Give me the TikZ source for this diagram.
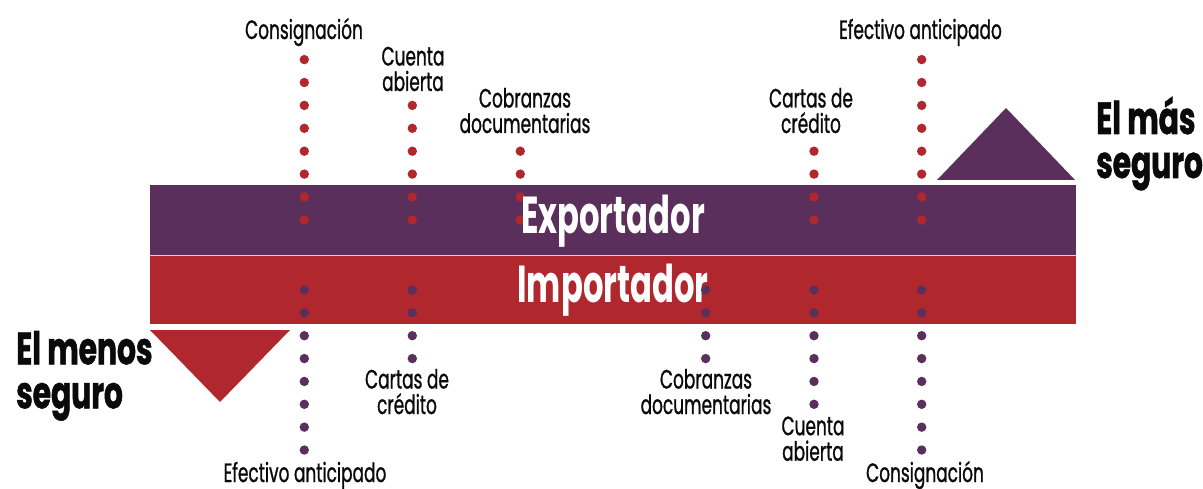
\documentclass[tikz,border=0pt]{standalone}
\usepackage{fontspec}
\newfontfamily\labfont[FakeStretch=0.64, FakeBold=0.9]{Poppins}
\newfontfamily\boldfont[FakeStretch=0.62]{Poppins}
\newfontfamily\heavyfont[FakeStretch=0.66, FakeBold=1.2]{Poppins}
\definecolor{expurple}{RGB}{91,47,92}
\definecolor{impred}{RGB}{177,39,46}
\definecolor{tlabel}{RGB}{10,10,10}
\tikzset{
  lbl/.style={font=\labfont\fontsize{26.5}{25.5}\selectfont, text=tlabel, inner sep=0pt, align=center, anchor=base},
  biglbl/.style={font=\heavyfont\bfseries\fontsize{45}{44}\selectfont, text=tlabel, inner sep=0pt, align=left, anchor=base west},
  bandtext/.style={font=\boldfont\bfseries\fontsize{52}{52}\selectfont, text=white, inner sep=0pt, anchor=base},
}
\begin{document}
\begin{tikzpicture}[x=1pt,y=-1pt]
\useasboundingbox (0,0) rectangle (1203,489);
\fill[white] (0,0) rectangle (1203,489);
% bands
\fill[expurple] (150,185) rectangle (1076,255);
\fill[impred] (150,255) rectangle (1076,324);
\draw[white!75!impred, line width=0.6pt] (150,255) -- (1076,255);
% triangles
\fill[expurple] (937,180) -- (1075,180) -- (1006,108) -- cycle;
\fill[impred] (150,330) -- (290,330) -- (220,402) -- cycle;
% top red dots
\foreach \x/\n in {304.3/8, 412.3/6, 520.3/4, 814/4, 921.7/8}{
  \foreach \i in {1,...,\n}{
    \fill[impred] (\x, {219.9-(\i-1)*22.9}) circle (4.7);
  }
}
% band texts
\node[bandtext] (exp) at (613,233.3) {Exportador};
\node[bandtext] (imp) at (613,302.7) {Importador};
% bottom purple dots
\foreach \x/\n in {304.3/8, 412.3/4, 705.7/4, 814/6, 921.7/8}{
  \foreach \i in {1,...,\n}{
    \fill[expurple] (\x, {290+(\i-1)*22.86}) circle (4.7);
  }
}
% top labels (anchor = baseline of last line)
\node[lbl] (t1) at (304,39) {Consignación};
\node[lbl] (t2) at (413,91) {Cuenta\\abierta};
\node[lbl] (t3) at (525,133) {Cobranzas\\documentarias};
\node[lbl] (t4) at (811,133) {Cartas de\\crédito};
\node[lbl] (t5) at (920.5,39) {Efectivo anticipado};
% bottom labels
\node[lbl] (b1) at (305,482) {Efectivo anticipado};
\node[lbl] (b2) at (407,414) {Cartas de\\crédito};
\node[lbl] (b3) at (706,414) {Cobranzas\\documentarias};
\node[lbl] (b4) at (813,460.7) {Cuenta\\abierta};
\node[lbl] (b5) at (925,482) {Consignación};
% side labels
\node[biglbl] (mas) at (1096,178) {El más\\seguro};
\node[biglbl] (menos) at (16,408.3) {El menos\\seguro};
\end{tikzpicture}
\end{document}
